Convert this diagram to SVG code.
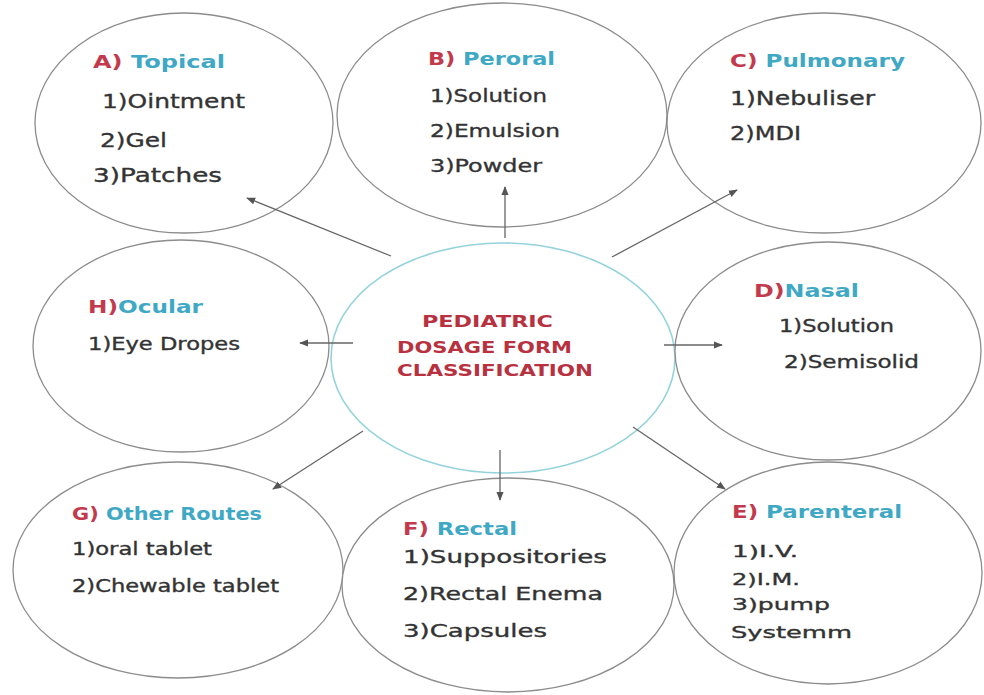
<svg xmlns="http://www.w3.org/2000/svg" width="984" height="695" viewBox="0 0 984 695">
<defs>
<marker id="ah" viewBox="0 0 10 10" refX="9" refY="5" markerWidth="9" markerHeight="9" markerUnits="userSpaceOnUse" orient="auto">
<path d="M0,1 L10,5 L0,9 Z" fill="#555"/>
</marker>
<style>
.node{fill:#fff;stroke:#8c8c8c;stroke-width:1.3}
.hub{fill:#fff;stroke:#95d3dc;stroke-width:1.6}
text{font-family:"DejaVu Sans","Liberation Sans",sans-serif}
.it{fill:#333;stroke:#333;stroke-width:0.35}
.hd{font-weight:bold;font-size:17px}
.p{fill:#c23a4c}
.n{fill:#3fa8c4}
.ct{fill:#b8313f;font-weight:bold;font-size:16px}
.conn line{stroke:#666;stroke-width:1.3;marker-end:url(#ah)}
</style>
</defs>
<rect width="984" height="695" fill="#fff"/>
<g id="nodeA">
<ellipse class="node" cx="184" cy="123" rx="149" ry="110"/>
<text class="hd" x="93" y="68" textLength="132" lengthAdjust="spacingAndGlyphs"><tspan class="p">A)</tspan><tspan class="n"> Topical</tspan></text>
<text class="it" font-size="20" x="102" y="108" textLength="143" lengthAdjust="spacingAndGlyphs">1)Ointment</text>
<text class="it" font-size="20" x="100" y="147" textLength="67" lengthAdjust="spacingAndGlyphs">2)Gel</text>
<text class="it" font-size="20" x="93" y="182" textLength="129" lengthAdjust="spacingAndGlyphs">3)Patches</text>
</g>
<g id="nodeB">
<ellipse class="node" cx="502" cy="115" rx="165" ry="112"/>
<text class="hd" x="428" y="65" textLength="127" lengthAdjust="spacingAndGlyphs"><tspan class="p">B)</tspan><tspan class="n"> Peroral</tspan></text>
<text class="it" font-size="18" x="430" y="102" textLength="117" lengthAdjust="spacingAndGlyphs">1)Solution</text>
<text class="it" font-size="18" x="430" y="137" textLength="130" lengthAdjust="spacingAndGlyphs">2)Emulsion</text>
<text class="it" font-size="18" x="430" y="172" textLength="112" lengthAdjust="spacingAndGlyphs">3)Powder</text>
</g>
<g id="nodeC">
<ellipse class="node" cx="824" cy="123" rx="157" ry="110"/>
<text class="hd" x="730" y="67" textLength="175" lengthAdjust="spacingAndGlyphs"><tspan class="p">C)</tspan><tspan class="n"> Pulmonary</tspan></text>
<text class="it" font-size="19" x="730" y="105" textLength="145" lengthAdjust="spacingAndGlyphs">1)Nebuliser</text>
<text class="it" font-size="19" x="730" y="140" textLength="71" lengthAdjust="spacingAndGlyphs">2)MDI</text>
</g>
<g id="nodeH">
<ellipse class="node" cx="181" cy="346" rx="148" ry="106"/>
<text class="hd" x="88" y="313" textLength="115" lengthAdjust="spacingAndGlyphs"><tspan class="p">H)</tspan><tspan class="n">Ocular</tspan></text>
<text class="it" font-size="17" x="88" y="350" textLength="152" lengthAdjust="spacingAndGlyphs">1)Eye Dropes</text>
</g>
<g id="hub">
<ellipse class="hub" cx="503" cy="358" rx="172" ry="115"/>
<text class="ct" x="422" y="327" textLength="131" lengthAdjust="spacingAndGlyphs">PEDIATRIC</text>
<text class="ct" x="397" y="353" textLength="175" lengthAdjust="spacingAndGlyphs">DOSAGE FORM</text>
<text class="ct" x="397" y="376" textLength="196" lengthAdjust="spacingAndGlyphs">CLASSIFICATION</text>
</g>
<g id="nodeD">
<ellipse class="node" cx="828" cy="351" rx="153" ry="109"/>
<text class="hd" x="754" y="297" textLength="105" lengthAdjust="spacingAndGlyphs"><tspan class="p">D)</tspan><tspan class="n">Nasal</tspan></text>
<text class="it" font-size="17" x="779" y="332" textLength="115" lengthAdjust="spacingAndGlyphs">1)Solution</text>
<text class="it" font-size="17" x="784" y="368" textLength="135" lengthAdjust="spacingAndGlyphs">2)Semisolid</text>
</g>
<g id="nodeG">
<ellipse class="node" cx="178" cy="570" rx="165" ry="108"/>
<text class="hd" font-size="16" x="72" y="520" textLength="190" lengthAdjust="spacingAndGlyphs"><tspan class="p">G)</tspan><tspan class="n"> Other Routes</tspan></text>
<text class="it" font-size="17" x="72" y="555" textLength="140" lengthAdjust="spacingAndGlyphs">1)oral tablet</text>
<text class="it" font-size="17" x="72" y="592" textLength="207" lengthAdjust="spacingAndGlyphs">2)Chewable tablet</text>
</g>
<g id="nodeF">
<ellipse class="node" cx="508" cy="585" rx="166" ry="107"/>
<text class="hd" x="403" y="535" textLength="114" lengthAdjust="spacingAndGlyphs"><tspan class="p">F)</tspan><tspan class="n"> Rectal</tspan></text>
<text class="it" font-size="18" x="403" y="563" textLength="204" lengthAdjust="spacingAndGlyphs">1)Suppositories</text>
<text class="it" font-size="18" x="403" y="600" textLength="200" lengthAdjust="spacingAndGlyphs">2)Rectal Enema</text>
<text class="it" font-size="18" x="403" y="637" textLength="144" lengthAdjust="spacingAndGlyphs">3)Capsules</text>
</g>
<g id="nodeE">
<ellipse class="node" cx="828" cy="573" rx="154" ry="111"/>
<text class="hd" x="732" y="518" textLength="170" lengthAdjust="spacingAndGlyphs"><tspan class="p">E)</tspan><tspan class="n"> Parenteral</tspan></text>
<text class="it" font-size="16.5" x="732" y="557" textLength="66" lengthAdjust="spacingAndGlyphs">1)I.V.</text>
<text class="it" font-size="16.5" x="732" y="585" textLength="68" lengthAdjust="spacingAndGlyphs">2)I.M.</text>
<text class="it" font-size="16.5" x="732" y="610" textLength="98" lengthAdjust="spacingAndGlyphs">3)pump</text>
<text class="it" font-size="16.5" x="731" y="638" textLength="121" lengthAdjust="spacingAndGlyphs">Systemm</text>
</g>
<g id="connectors" class="conn">
<line x1="391" y1="256" x2="247" y2="198"/>
<line x1="505" y1="238" x2="505" y2="187"/>
<line x1="612" y1="257" x2="737" y2="190"/>
<line x1="353" y1="343" x2="300" y2="343"/>
<line x1="664" y1="345" x2="722" y2="345"/>
<line x1="363" y1="431" x2="273" y2="489"/>
<line x1="500" y1="450" x2="500" y2="500"/>
<line x1="633" y1="427" x2="725" y2="489"/>
</g>
</svg>
